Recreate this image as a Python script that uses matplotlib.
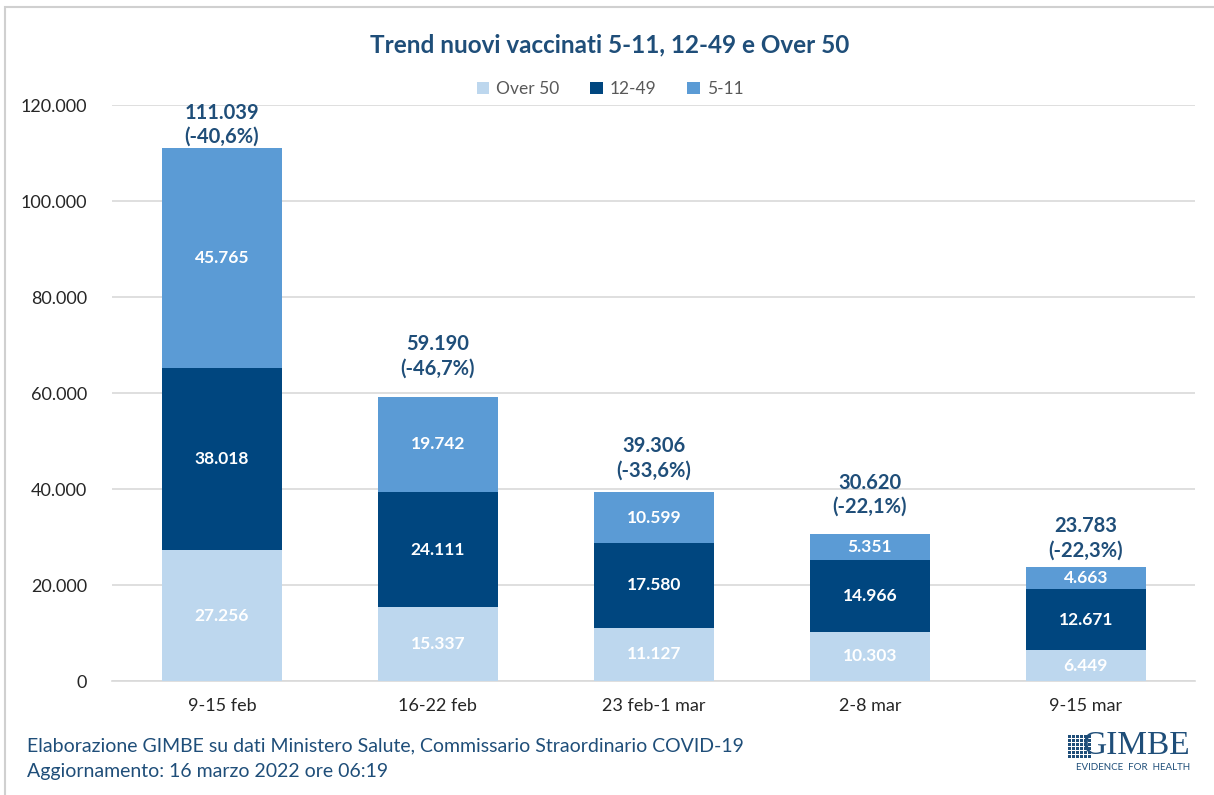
import matplotlib
matplotlib.use("Agg")
import matplotlib.pyplot as plt
from matplotlib.patches import Rectangle
import numpy as np

categories = ["9-15 feb", "16-22 feb", "23 feb-1 mar", "2-8 mar", "9-15 mar"]
over50 = [27256, 15337, 11127, 10303, 6449]
age12_49 = [38018, 24111, 17580, 14966, 12671]
age5_11 = [45765, 19742, 10599, 5351, 4663]
totals = [111039, 59190, 39306, 30620, 23783]
pct = ["(-40,6%)", "(-46,7%)", "(-33,6%)", "(-22,1%)", "(-22,3%)"]
series_names = ["Over 50", "12-49", "5-11"]

# label offsets above the bar top (pixels) - styling only
label_gap_px = [11, 28, 22, 27, 16]

c_over50 = "#BDD7EE"
c_12 = "#00467F"
c_5 = "#5B9BD5"
c_title = "#1F4E79"

plt.rcParams['font.family'] = ['Lato', 'DejaVu Sans']

def fmt(v):
    return f"{v:,}".replace(",", ".")

fig = plt.figure(figsize=(12.14, 7.95), dpi=100)
W, H = 1214, 795
ax = fig.add_axes([112 / W, 1 - 681 / H, (1195 - 112) / W, (681 - 105) / H])

x = np.arange(len(categories))
bw = 0.556
b1 = ax.bar(x, over50, bw, color=c_over50, label=series_names[0], zorder=3)
b2 = ax.bar(x, age12_49, bw, bottom=over50, color=c_12, label=series_names[1], zorder=3)
bottom3 = np.array(over50) + np.array(age12_49)
b3 = ax.bar(x, age5_11, bw, bottom=bottom3, color=c_5, label=series_names[2], zorder=3)

lbl_kw = dict(ha="center", va="center", color="white", fontsize=12.5, fontweight="bold", zorder=4)
tot_kw = dict(textcoords="offset pixels", ha="center", va="center", color=c_title,
              fontsize=14.5, fontweight="bold", zorder=5, annotation_clip=False)
for i in range(len(x)):
    ax.text(x[i], over50[i] / 2, fmt(over50[i]), **lbl_kw)
    ax.text(x[i], over50[i] + age12_49[i] / 2, fmt(age12_49[i]), **lbl_kw)
    ax.text(x[i], bottom3[i] + age5_11[i] / 2, fmt(age5_11[i]), **lbl_kw)
    top = bottom3[i] + age5_11[i]
    g = label_gap_px[i]
    ax.annotate(pct[i], (x[i], top), xytext=(0, g), **tot_kw)
    ax.annotate(fmt(totals[i]), (x[i], top), xytext=(0, g + 24.5), **tot_kw)

ax.set_xlim(-0.509, 4.505)
ax.set_ylim(0, 120000)
ax.set_yticks(np.arange(0, 120001, 20000))
ax.set_yticklabels([fmt(v) for v in range(0, 120001, 20000)], fontsize=13, color="#262626")
ax.set_xticks(x)
ax.set_xticklabels(categories, fontsize=13, color="#262626")
ax.tick_params(axis="both", length=0)
ax.tick_params(axis="y", pad=18)
ax.tick_params(axis="x", pad=12)
ax.grid(axis="y", color="#D9D9D9", linewidth=1.2, zorder=0)
for s in ["top", "right", "left"]:
    ax.spines[s].set_visible(False)
ax.spines["bottom"].set_color("#D9D9D9")
ax.spines["bottom"].set_linewidth(1.2)

leg = fig.legend(handles=[b1, b2, b3], loc="center", bbox_to_anchor=(610 / W, 1 - 89 / H),
                 ncol=3, frameon=False, fontsize=12.5, handlelength=0.7, handleheight=0.7,
                 handletextpad=0.4, columnspacing=1.8, labelcolor="#595959")

fig.text(610 / W, 1 - 45 / H, "Trend nuovi vaccinati 5-11, 12-49 e Over 50", ha="center",
         va="center", fontsize=17.5, fontweight="bold", color=c_title)

fig.text(27 / W, 1 - 746 / H, "Elaborazione GIMBE su dati Ministero Salute, Commissario Straordinario COVID-19",
         ha="left", va="center", fontsize=14, color=c_title)
fig.text(27 / W, 1 - 772 / H, "Aggiornamento: 16 marzo 2022 ore 06:19",
         ha="left", va="center", fontsize=14, color=c_title)

# logo
fig.text(1190 / W, 1 - 746 / H, "GIMBE", ha="right", va="center", fontsize=24,
         family=["Liberation Serif", "DejaVu Serif"], color="#1F4E79")
fig.text(1190 / W, 1 - 767 / H, "EVIDENCE  FOR  HEALTH", ha="right", va="center", fontsize=7,
         color="#1F4E79")
for r in range(6):
    for c in range(6):
        fig.patches.append(Rectangle(((1068 + c * 4) / W, 1 - (735 + r * 4 + 3) / H), 3 / W, 3 / H,
                                     transform=fig.transFigure, facecolor="#1F4E79",
                                     edgecolor="none"))

# frame
fig.patches.append(Rectangle((5 / W, -0.05), 1.2, 1 - 7 / H + 0.05, transform=fig.transFigure,
                             facecolor="none", edgecolor="#D0D0D0", linewidth=1.5))

fig.savefig("out.png", dpi=100)
